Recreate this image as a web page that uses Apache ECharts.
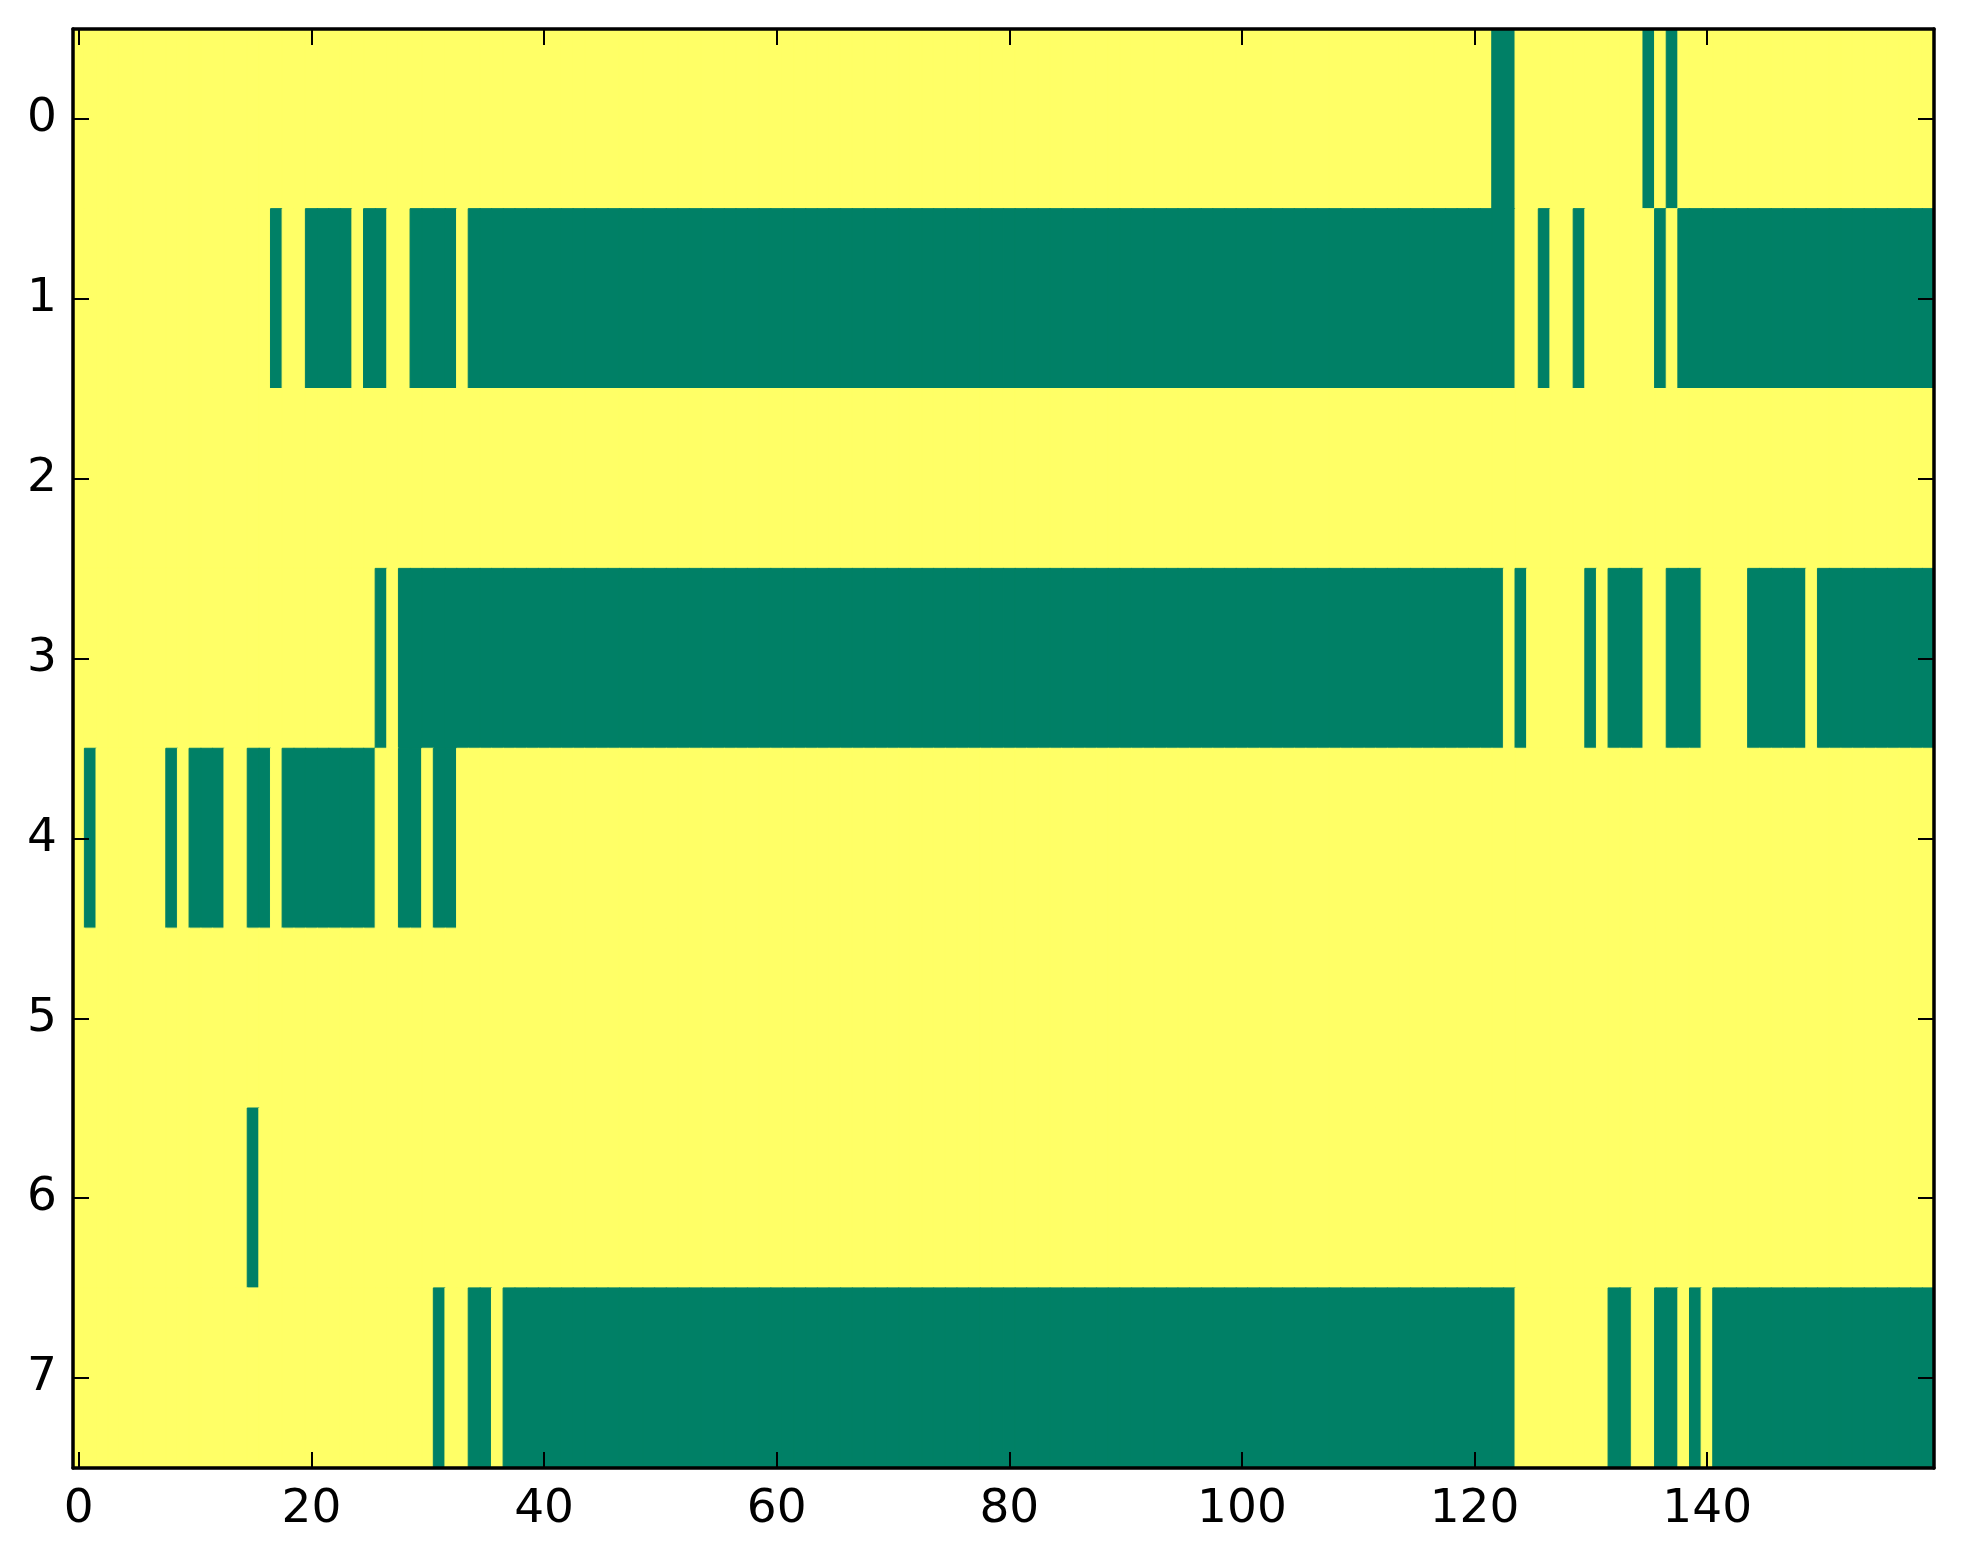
<!DOCTYPE html>
<html>
<head>
<meta charset="utf-8">
<script src="https://cdn.jsdelivr.net/npm/echarts@6/dist/echarts.min.js"></script>
<style>
  html, body { margin: 0; padding: 0; background: #fff; }
  #chart { width: 1963px; height: 1564px; }
</style>
</head>
<body>
<div id="chart"></div>
<script>
// green cells (value 0) per row, as [first, last] column runs; everything else is yellow (value 1)
var row0 = [[122, 123], [135, 135], [137, 137]];
var row1 = [[17, 17], [20, 23], [25, 26], [29, 32], [34, 123], [126, 126], [129, 129], [136, 136], [138, 159]];
var row2 = [];
var row3 = [[26, 26], [28, 122], [124, 124], [130, 130], [132, 134], [137, 139], [144, 148], [150, 159]];
var row4 = [[1, 1], [8, 8], [10, 12], [15, 16], [18, 25], [28, 29], [31, 32]];
var row5 = [];
var row6 = [[15, 15]];
var row7 = [[31, 31], [34, 35], [37, 123], [132, 133], [136, 137], [139, 139], [141, 159]];

var nCols = 160;
var xTicks = [0, 20, 40, 60, 80, 100, 120, 140];
var yLabels = ['0', '1', '2', '3', '4', '5', '6', '7'];

var rows = [row0, row1, row2, row3, row4, row5, row6, row7];
var colors = ['#008066', '#ffff66'];

var xCats = [];
for (var i = 0; i < nCols; i++) xCats.push(String(i));

var cells = [];
rows.forEach(function (runs, y) {
    for (var x = 0; x < nCols; x++) {
        var v = 1;
        runs.forEach(function (r) {
            if (x >= r[0] && x <= r[1]) v = 0;
        });
        // border in the same colour hides the hairline seams between cells
        cells.push({ value: [x, y, v], itemStyle: { borderColor: colors[v], borderWidth: 1 } });
    }
});

function isTick(index) {
    return xTicks.indexOf(index) >= 0;
}

var font = 'DejaVu Sans';
var lineStyle = { color: '#000', width: 3.5 };
var tickStyle = { color: '#000', width: 2 };

function axis(extra) {
    var base = {
        type: 'category',
        zlevel: 1,
        z: 10,
        axisLine: { show: true, lineStyle: lineStyle },
        axisTick: { show: true, inside: true, length: 16, alignWithLabel: true, lineStyle: tickStyle },
        axisLabel: { show: false },
        splitLine: { show: false }
    };
    return Object.assign(base, extra);
}

var myChart = echarts.init(document.getElementById('chart'));
myChart.setOption({
    animation: false,
    backgroundColor: '#fff',
    grid: { left: 73, right: 29, top: 29, bottom: 96, containLabel: false },
    xAxis: [
        axis({
            data: xCats,
            position: 'bottom',
            axisTick: { show: true, inside: true, length: 16, alignWithLabel: true, interval: isTick, lineStyle: tickStyle },
            axisLabel: { show: true, interval: isTick, margin: 18, fontFamily: font, fontSize: 47, color: '#000' }
        }),
        axis({
            data: xCats,
            position: 'top',
            axisTick: { show: true, inside: true, length: 16, alignWithLabel: true, interval: isTick, lineStyle: tickStyle }
        })
    ],
    yAxis: [
        axis({
            data: yLabels,
            inverse: true,
            position: 'left',
            axisLabel: { show: true, margin: 16, fontFamily: font, fontSize: 47, color: '#000' }
        }),
        axis({
            data: yLabels,
            inverse: true,
            position: 'right'
        })
    ],
    visualMap: {
        show: false,
        type: 'piecewise',
        dimension: 2,
        pieces: [
            { value: 0, color: colors[0] },
            { value: 1, color: colors[1] }
        ]
    },
    series: [{
        type: 'heatmap',
        xAxisIndex: 0,
        yAxisIndex: 0,
        data: cells,
        emphasis: { disabled: true },
        zlevel: 0,
        z: 1
    }]
});
</script>
</body>
</html>
